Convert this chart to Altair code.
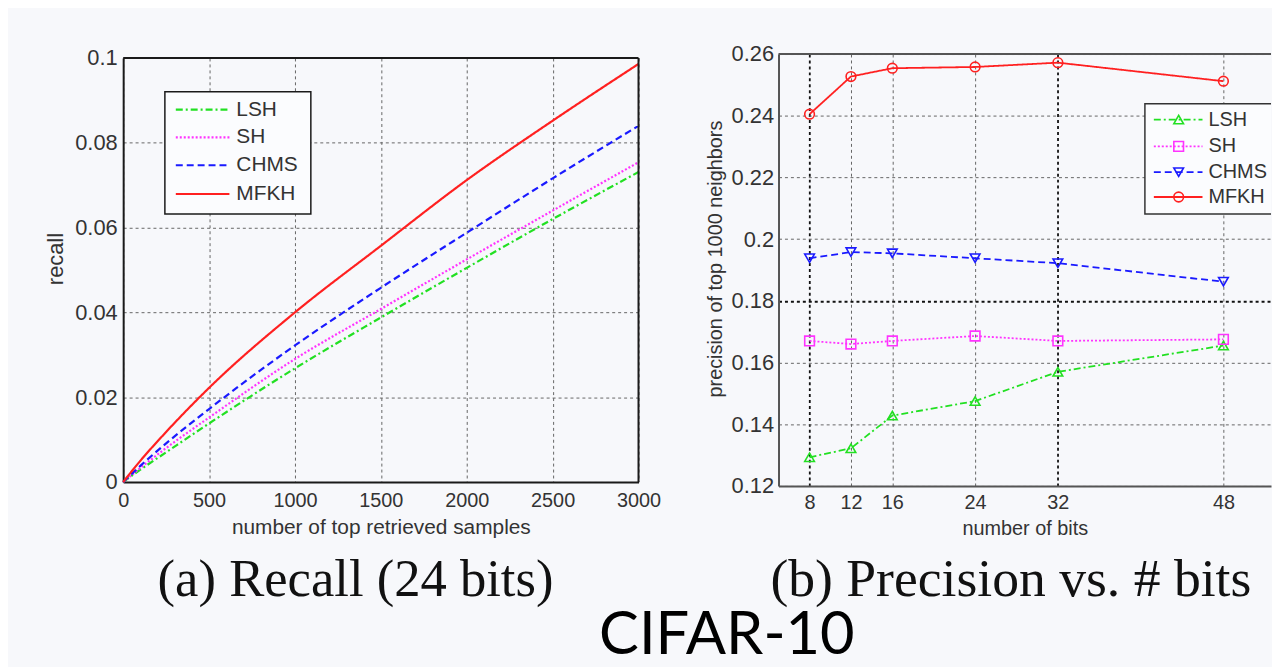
import altair as alt
import pandas as pd

SERIES = ["LSH", "SH", "CHMS", "MFKH"]
COLORS = ["#22e022", "#ff33ff", "#1a1aff", "#ff2020"]
DASHES = [[7, 3, 2, 3], [2, 2], [7, 4], [1, 0]]
SHAPES = ["triangle-up", "square", "triangle-down", "circle"]

# (a) recall vs number of retrieved samples (24 bits)
samples = [0, 100, 250, 500, 1000, 1500, 2000, 2500, 3000]
recall_lsh = [0, 0.0029, 0.0070, 0.0138, 0.0268, 0.0388, 0.0505, 0.0620, 0.0731]
recall_sh = [0, 0.0033, 0.0080, 0.0152, 0.0290, 0.0408, 0.0525, 0.0640, 0.0754]
recall_chms = [0, 0.0038, 0.0091, 0.0172, 0.0322, 0.0458, 0.0588, 0.0716, 0.0840]
recall_mfkh = [0, 0.0050, 0.0118, 0.0222, 0.0400, 0.0557, 0.0712, 0.0852, 0.0986]
x_ticks_a = [0, 500, 1000, 1500, 2000, 2500, 3000]
y_ticks_a = [0, 0.02, 0.04, 0.06, 0.08, 0.1]

# (b) precision of top 1000 neighbours vs number of bits
bits = [8, 12, 16, 24, 32, 48]
prec_lsh = [0.1293, 0.1322, 0.1428, 0.1475, 0.1570, 0.1655]
prec_sh = [0.1670, 0.1660, 0.1670, 0.1686, 0.1670, 0.1675]
prec_chms = [0.1938, 0.1958, 0.1954, 0.1938, 0.1922, 0.1862]
prec_mfkh = [0.2405, 0.2527, 0.2554, 0.2558, 0.2572, 0.2512]
y_ticks_b = [0.12, 0.14, 0.16, 0.18, 0.2, 0.22, 0.24, 0.26]

BG = "#f7f8fb"
FONT = "Liberation Sans"
TXT = "#333333"

rec_df = pd.concat([
    pd.DataFrame({"samples": samples, "recall": vals, "method": name})
    for name, vals in zip(SERIES, [recall_lsh, recall_sh, recall_chms, recall_mfkh])
])
prec_df = pd.concat([
    pd.DataFrame({"bits": bits, "precision": vals, "method": name})
    for name, vals in zip(SERIES, [prec_lsh, prec_sh, prec_chms, prec_mfkh])
])
one = pd.DataFrame({"k": [0]})

color = alt.Color("method:N", scale=alt.Scale(domain=SERIES, range=COLORS), legend=None)
dash = alt.StrokeDash("method:N", scale=alt.Scale(domain=SERIES, range=DASHES), legend=None)
shape = alt.Shape("method:N", scale=alt.Scale(domain=SERIES, range=SHAPES), legend=None)

WL, HL = 519, 427
WR, HR = 496, 435

# ---------------- left panel ----------------
xa = alt.X("samples:Q", scale=alt.Scale(domain=[0, 3000], nice=False, zero=False),
           axis=alt.Axis(values=x_ticks_a, format="d", title="number of top retrieved samples",
                         labelFontSize=20, labelPadding=9, labelFlush=False,
                         titleFontSize=21, titleY=52, titleBaseline="alphabetic",
                         domainColor="#1a1a1a", domainWidth=2))
ya = alt.Y("recall:Q", scale=alt.Scale(domain=[0, 0.1], nice=False, zero=False),
           axis=alt.Axis(values=y_ticks_a, format="~g", title="recall",
                         labelFontSize=22, labelPadding=6,
                         titleFontSize=22, titleX=-61, titleY=202, titleBaseline="alphabetic",
                         domainColor="#1a1a1a", domainWidth=2))

left_layers = [
    alt.Chart(rec_df).mark_line(strokeWidth=2.2, interpolate="monotone").encode(
        x=xa, y=ya, color=color, strokeDash=dash),
    alt.Chart(one).mark_rule(color="#1a1a1a", strokeWidth=2).encode(
        x=alt.value(0), x2=alt.value(WL), y=alt.value(0)),
    alt.Chart(one).mark_rule(color="#1a1a1a", strokeWidth=2).encode(
        x=alt.value(WL), y=alt.value(0), y2=alt.value(HL)),
    alt.Chart(one).mark_rect(fill="#fbfcfe", stroke="#1a1a1a", strokeWidth=1.5).encode(
        x=alt.value(42), x2=alt.value(189), y=alt.value(34), y2=alt.value(157)),
]
leg_y_a = [52, 80, 108, 137]
for i, name in enumerate(SERIES):
    left_layers.append(
        alt.Chart(one).mark_rule(color=COLORS[i], strokeWidth=2.2, strokeDash=DASHES[i]).encode(
            x=alt.value(53), x2=alt.value(107), y=alt.value(leg_y_a[i])))
    left_layers.append(
        alt.Chart(one).mark_text(font=FONT, fontSize=21, align="left", baseline="middle",
                                 color=TXT).encode(
            x=alt.value(114), y=alt.value(leg_y_a[i]), text=alt.value(name)))
left_layers.append(
    alt.Chart(one).mark_text(font="Liberation Serif", fontSize=53, align="center",
                             baseline="alphabetic", color="#111111").encode(
        x=alt.value(234), y=alt.value(542), text=alt.value("(a) Recall (24 bits)")))

left = alt.layer(*left_layers).properties(width=WL, height=HL)

# ---------------- right panel ----------------
grid_x_cond = {"condition": {"test": "datum.value === 8 || datum.value === 32", "value": "#111111"},
               "value": "#666666"}
grid_xw_cond = {"condition": {"test": "datum.value === 8 || datum.value === 32", "value": 1.8},
                "value": 1}
grid_y_cond = {"condition": {"test": "abs(datum.value - 0.18) < 0.001", "value": "#111111"},
               "value": "#666666"}
grid_yw_cond = {"condition": {"test": "abs(datum.value - 0.18) < 0.001", "value": 1.8},
                "value": 1}

xb = alt.X("bits:Q", scale=alt.Scale(domain=[5, 52.6], nice=False, zero=False),
           axis=alt.Axis(values=bits, title="number of bits",
                         labelFontSize=20, labelPadding=7, labelFlush=False,
                         titleFontSize=20, titleY=49, titleBaseline="alphabetic",
                         gridColor=grid_x_cond, gridWidth=grid_xw_cond,
                         domainColor="#555555", domainWidth=2))
yb = alt.Y("precision:Q", scale=alt.Scale(domain=[0.12, 0.26], nice=False, zero=False),
           axis=alt.Axis(values=y_ticks_b, format="~g", title="precision of top 1000 neighbors",
                         labelFontSize=22, labelPadding=5,
                         titleFontSize=20, titleX=-57, titleY=206, titleBaseline="alphabetic",
                         gridColor=grid_y_cond, gridWidth=grid_yw_cond,
                         domainColor="#555555", domainWidth=2))

LX = 369  # legend box left edge inside the right panel
right_layers = [
    alt.Chart(prec_df).mark_line(strokeWidth=1.8).encode(
        x=xb, y=yb, color=color, strokeDash=dash),
    alt.Chart(prec_df).mark_point(filled=False, size=95, strokeWidth=1.6, opacity=1).encode(
        x=xb, y=yb, color=color, shape=shape),
    alt.Chart(one).mark_rule(color="#555555", strokeWidth=2).encode(
        x=alt.value(0), x2=alt.value(WR), y=alt.value(0)),
    alt.Chart(one).mark_rect(fill="#fbfcfe", stroke="#333333", strokeWidth=1.5, clip=True).encode(
        x=alt.value(LX), x2=alt.value(WR + 60), y=alt.value(50), y2=alt.value(161)),
]
leg_y_b = [66, 93, 119, 144]
for i, name in enumerate(SERIES):
    right_layers.append(
        alt.Chart(one).mark_rule(color=COLORS[i], strokeWidth=1.8, strokeDash=DASHES[i]).encode(
            x=alt.value(LX + 9), x2=alt.value(LX + 58), y=alt.value(leg_y_b[i])))
    right_layers.append(
        alt.Chart(one).mark_point(filled=False, size=95, strokeWidth=1.6, opacity=1,
                                  shape=SHAPES[i], color=COLORS[i]).encode(
            x=alt.value(LX + 34), y=alt.value(leg_y_b[i])))
    right_layers.append(
        alt.Chart(one).mark_text(font=FONT, fontSize=20, align="left", baseline="middle",
                                 color=TXT).encode(
            x=alt.value(LX + 64), y=alt.value(leg_y_b[i]), text=alt.value(name)))
right_layers.append(
    alt.Chart(one).mark_text(font="Liberation Serif", fontSize=54, align="center",
                             baseline="alphabetic", color="#111111").encode(
        x=alt.value(234), y=alt.value(546), text=alt.value("(b) Precision vs. # bits")))
right_layers.append(
    alt.Chart(one).mark_text(font="Lato", fontSize=60, align="center",
                             baseline="alphabetic", color="#000000").encode(
        x=alt.value(-52), y=alt.value(604), text=alt.value("CIFAR-10")))

right = alt.layer(*right_layers).properties(width=WR, height=HR)

chart = alt.hconcat(left, right, spacing=141).properties(
    bounds="flush", center=True, background=BG,
    padding={"left": 37, "top": 33, "right": 0, "bottom": 0},
).configure_view(stroke=None).configure_axis(
    labelFont=FONT, titleFont=FONT, labelColor=TXT, titleColor=TXT,
    titleFontWeight="normal", ticks=False, tickSize=0, domain=True,
    grid=True, gridColor="#666666", gridDash=[3, 3], gridWidth=1, gridOpacity=1,
)

chart.save("out.html", embed_options={"renderer": "svg", "actions": False})
